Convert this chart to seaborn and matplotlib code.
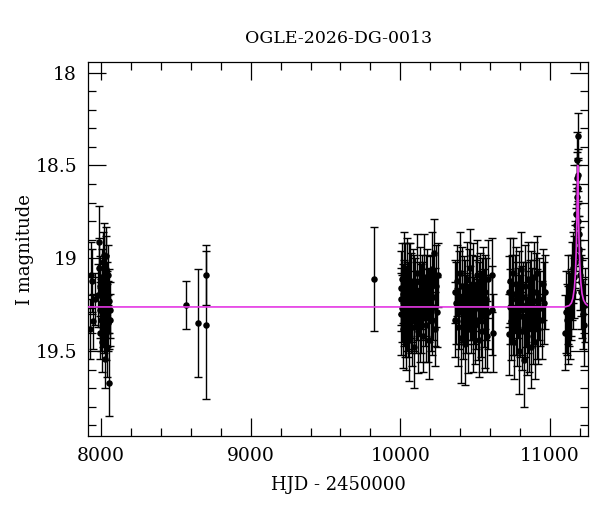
import numpy as np
import pandas as pd
import seaborn as sns
import matplotlib
matplotlib.use("Agg")
import matplotlib.pyplot as plt
from matplotlib.ticker import MultipleLocator

# --- photometry (HJD-2450000, I mag, error) ---
hjd_s1 = [7928, 7935, 7941, 7948, 7956, 7976, 7982, 7986, 7989, 7992, 7995, 7998, 8001,
          8003, 8006, 8008, 8011, 8013, 8016, 8018, 8020, 8022, 8024, 8026, 8028, 8030,
          8032, 8034, 8036, 8038, 8040, 8042, 8044, 8046, 8048, 8050, 8053, 8056, 8062]
mag_s1 = [19.38, 19.09, 19.12, 19.34, 19.22, 19.20, 18.91, 19.05, 19.28, 19.40, 19.15,
          19.24, 19.33, 19.10, 19.45, 19.19, 19.30, 19.02, 19.25, 19.37, 18.98, 19.22,
          19.54, 19.13, 19.29, 19.06, 19.40, 18.99, 19.21, 19.31, 19.17, 19.48, 19.26,
          19.09, 19.35, 19.23, 19.67, 19.28, 19.33]
err_s1 = [0.16, 0.18, 0.17, 0.15, 0.14, 0.17, 0.19, 0.16, 0.15, 0.14, 0.16, 0.13, 0.17,
          0.15, 0.16, 0.14, 0.18, 0.16, 0.15, 0.14, 0.17, 0.13, 0.16, 0.15, 0.14, 0.18,
          0.15, 0.16, 0.14, 0.17, 0.15, 0.16, 0.14, 0.16, 0.15, 0.17, 0.18, 0.15, 0.14]

hjd_gap = [8568, 8650, 8703, 8704, 9826]
mag_gap = [19.25, 19.35, 19.09, 19.36, 19.11]
err_gap = [0.13, 0.29, 0.16, 0.40, 0.28]

hjd_s2 = [10002, 10005, 10008, 10011, 10014, 10017, 10020, 10023, 10026, 10029, 10032,
          10035, 10038, 10041, 10044, 10047, 10050, 10053, 10056, 10059, 10062, 10065,
          10068, 10071, 10074, 10077, 10080, 10085, 10090, 10095, 10100, 10105, 10110,
          10115, 10120, 10125, 10130, 10135, 10140, 10145, 10150, 10155, 10160, 10165,
          10170, 10175, 10180, 10185, 10190, 10195, 10200, 10205, 10210, 10215, 10220,
          10225, 10230, 10235, 10240, 10245, 10250]
mag_s2 = [19.16, 19.22, 19.30, 19.11, 19.27, 19.38, 19.19, 19.24, 19.05, 19.33, 19.28,
          19.14, 19.41, 19.21, 19.26, 19.09, 19.35, 19.23, 19.30, 19.17, 19.44, 19.25,
          19.12, 19.32, 19.20, 19.37, 19.28, 19.15, 19.24, 19.48, 19.19, 19.31, 19.08,
          19.26, 19.39, 19.22, 19.13, 19.34, 19.27, 19.18, 19.42, 19.23, 19.10, 19.29,
          19.36, 19.20, 19.14, 19.31, 19.25, 19.44, 19.17, 19.28, 19.06, 19.33, 19.21,
          18.97, 19.26, 19.38, 19.15, 19.29, 19.09]
err_s2 = [0.20, 0.17, 0.22, 0.19, 0.18, 0.21, 0.16, 0.23, 0.19, 0.20, 0.18, 0.22, 0.19,
          0.17, 0.24, 0.20, 0.18, 0.21, 0.19, 0.25, 0.22, 0.18, 0.20, 0.19, 0.23, 0.21,
          0.17, 0.20, 0.26, 0.22, 0.19, 0.20, 0.21, 0.18, 0.23, 0.20, 0.19, 0.22, 0.24,
          0.20, 0.19, 0.21, 0.23, 0.18, 0.20, 0.22, 0.19, 0.25, 0.20, 0.21, 0.18, 0.22,
          0.20, 0.19, 0.23, 0.18, 0.21, 0.20, 0.22, 0.19, 0.17]

hjd_s3 = [10366, 10368, 10375, 10380, 10385, 10390, 10395, 10400, 10405, 10410, 10415,
          10420, 10425, 10430, 10435, 10440, 10445, 10450, 10455, 10460, 10465, 10470,
          10475, 10480, 10485, 10490, 10495, 10500, 10505, 10510, 10515, 10520, 10525,
          10530, 10535, 10540, 10545, 10550, 10555, 10560, 10565, 10570, 10575, 10580,
          10585, 10590, 10612, 10615, 10618]
mag_s3 = [19.18, 19.33, 19.24, 19.12, 19.37, 19.21, 19.29, 19.08, 19.43, 19.26, 19.15,
          19.34, 19.22, 19.46, 19.19, 19.30, 19.11, 19.27, 19.38, 19.17, 19.24, 19.05,
          19.32, 19.21, 19.41, 19.14, 19.28, 19.36, 19.19, 19.25, 19.09, 19.33, 19.44,
          19.23, 19.16, 19.30, 19.20, 19.39, 19.13, 19.27, 19.34, 19.18, 19.22, 19.42,
          19.11, 19.29, 19.09, 19.28, 19.40]
err_s3 = [0.17, 0.20, 0.22, 0.19, 0.21, 0.25, 0.20, 0.22, 0.24, 0.19, 0.21, 0.20, 0.23,
          0.22, 0.18, 0.21, 0.20, 0.19, 0.24, 0.22, 0.20, 0.21, 0.19, 0.23, 0.20, 0.22,
          0.18, 0.21, 0.20, 0.24, 0.19, 0.22, 0.20, 0.21, 0.19, 0.23, 0.20, 0.22, 0.19,
          0.21, 0.25, 0.20, 0.22, 0.19, 0.21, 0.20, 0.20, 0.24, 0.21]

hjd_s4 = [10726, 10728, 10732, 10737, 10742, 10747, 10752, 10757, 10762, 10767, 10772,
          10777, 10782, 10787, 10792, 10797, 10802, 10807, 10812, 10817, 10822, 10827,
          10832, 10837, 10842, 10847, 10852, 10857, 10862, 10867, 10872, 10877, 10882,
          10887, 10892, 10897, 10902, 10907, 10912, 10917, 10922, 10927, 10935, 10945,
          10955, 10962, 10968]
mag_s4 = [19.18, 19.41, 19.26, 19.12, 19.34, 19.22, 19.08, 19.30, 19.45, 19.19, 19.27,
          19.14, 19.36, 19.24, 19.50, 19.17, 19.31, 19.06, 19.28, 19.39, 19.21, 19.55,
          19.15, 19.33, 19.25, 19.42, 19.11, 19.29, 19.37, 19.20, 19.48, 19.16, 19.26,
          19.34, 19.10, 19.23, 19.45, 19.18, 19.30, 19.08, 19.38, 19.22, 19.27, 19.33,
          19.14, 19.24, 19.18]
err_s4 = [0.19, 0.22, 0.20, 0.23, 0.21, 0.24, 0.19, 0.22, 0.20, 0.21, 0.25, 0.20, 0.22,
          0.19, 0.23, 0.21, 0.22, 0.20, 0.24, 0.21, 0.19, 0.25, 0.22, 0.20, 0.23, 0.21,
          0.20, 0.22, 0.24, 0.19, 0.22, 0.20, 0.21, 0.23, 0.19, 0.22, 0.20, 0.21, 0.24,
          0.20, 0.19, 0.22, 0.20, 0.21, 0.19, 0.22, 0.20]

hjd_ev = [11100, 11108, 11115, 11120, 11125, 11130, 11135, 11140, 11145, 11150, 11154,
          11158, 11162, 11166, 11170, 11173, 11176, 11179, 11181, 11183, 11185, 11187,
          11188, 11190, 11192, 11194, 11197, 11200, 11204, 11208, 11212, 11218, 11224,
          11230, 11236]
mag_ev = [19.40, 19.29, 19.33, 19.22, 19.36, 19.27, 19.31, 19.20, 19.25, 19.12, 19.18,
          19.05, 19.10, 18.98, 19.02, 18.90, 18.82, 18.76, 18.67, 18.57, 18.47, 18.34,
          18.55, 18.62, 18.80, 18.87, 18.95, 19.00, 19.09, 19.13, 19.18, 19.22, 19.30,
          19.36, 19.25]
err_ev = [0.20, 0.22, 0.19, 0.24, 0.21, 0.20, 0.23, 0.22, 0.19, 0.21, 0.20, 0.19, 0.22,
          0.18, 0.20, 0.17, 0.18, 0.16, 0.17, 0.14, 0.15, 0.12, 0.14, 0.15, 0.16, 0.17,
          0.18, 0.17, 0.19, 0.18, 0.20, 0.21, 0.19, 0.22, 0.20]

# --- model curve (magenta) ---
model_hjd = [7913, 11100, 11130, 11145, 11155, 11165, 11172, 11178, 11182, 11185, 11187,
             11189, 11192, 11196, 11201, 11208, 11216, 11226, 11240, 11256]
model_mag = [19.262, 19.262, 19.255, 19.24, 19.215, 19.16, 19.08, 18.94, 18.78, 18.60,
             18.50, 18.57, 18.74, 18.90, 19.03, 19.13, 19.19, 19.225, 19.245, 19.255]


def main():
    df = pd.DataFrame({
        "hjd": np.concatenate([hjd_s1, hjd_gap, hjd_s2, hjd_s3, hjd_s4, hjd_ev]),
        "mag": np.concatenate([mag_s1, mag_gap, mag_s2, mag_s3, mag_s4, mag_ev]),
        "err": np.concatenate([err_s1, err_gap, err_s2, err_s3, err_s4, err_ev]),
    })
    model = pd.DataFrame({"hjd": model_hjd, "mag": model_mag})

    sns.set_theme(style="ticks")
    plt.rcParams["font.family"] = ["DejaVu Serif"]
    plt.rcParams["text.color"] = "black"
    plt.rcParams["axes.labelcolor"] = "black"
    plt.rcParams["xtick.color"] = "black"
    plt.rcParams["ytick.color"] = "black"

    fig, ax = plt.subplots(figsize=(6, 5.12), dpi=100)
    fig.subplots_adjust(left=0.147, right=0.98, bottom=0.148, top=0.879)

    ax.errorbar(df["hjd"], df["mag"], yerr=df["err"], fmt="none",
                ecolor="black", elinewidth=1.0, capsize=2.8, capthick=1.0, zorder=2)
    sns.scatterplot(data=df, x="hjd", y="mag", color="black", s=22,
                    edgecolor="black", linewidth=0, ax=ax, zorder=3)
    sns.lineplot(data=model, x="hjd", y="mag", color="#e438e4", linewidth=1.2,
                 ax=ax, zorder=4)

    ax.set_xlim(7913, 11256)
    ax.set_ylim(19.958, 17.943)
    ax.xaxis.set_major_locator(MultipleLocator(1000))
    ax.xaxis.set_minor_locator(MultipleLocator(200))
    ax.yaxis.set_major_locator(MultipleLocator(0.5))
    ax.yaxis.set_minor_locator(MultipleLocator(0.1))
    ax.yaxis.set_major_formatter(plt.FuncFormatter(lambda v, p: f"{v:g}"))
    ax.tick_params(which="both", direction="in", top=True, right=True,
                   color="black", width=0.9, labelsize=13.5, pad=8, labelcolor="black")
    ax.tick_params(which="major", length=13)
    ax.tick_params(which="minor", length=6)
    for sp in ax.spines.values():
        sp.set_color("black")
        sp.set_linewidth(0.9)

    ax.set_title("OGLE-2026-DG-0013", fontsize=12.5, pad=14, color="black")
    ax.set_xlabel("HJD - 2450000", fontsize=13, labelpad=8, color="black")
    ax.set_ylabel("I magnitude", fontsize=13, labelpad=12, color="black")
    ax.yaxis.set_label_coords(-0.108, 0.5)

    fig.savefig("out.png", dpi=100)
    plt.close(fig)


if __name__ == "__main__":
    main()
